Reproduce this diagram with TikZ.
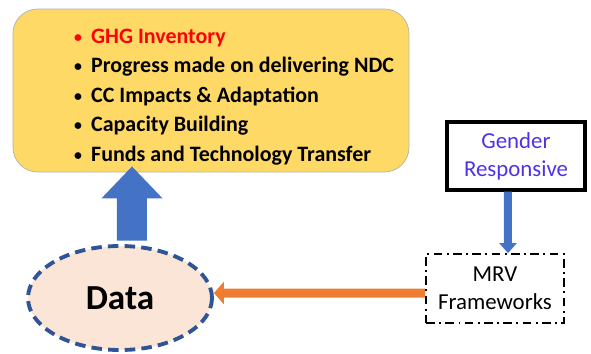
\documentclass[tikz,border=0pt]{standalone}
\usepackage{fontspec}
\setmainfont{Carlito}
\definecolor{ndcyellow}{RGB}{255,217,102}
\definecolor{ndcblue}{RGB}{68,114,196}
\definecolor{ndcnavy}{RGB}{47,85,151}
\definecolor{ndcpeach}{RGB}{251,229,214}
\definecolor{ndcorange}{RGB}{237,125,49}
\definecolor{ndcviolet}{RGB}{80,50,230}
\usetikzlibrary{arrows.meta,positioning,shapes.geometric}
\newcommand{\ndcitem}{\makebox[0.34cm][l]{\raisebox{0.5pt}{\fontsize{9}{9}\selectfont\textbullet}}}

\begin{document}
\begin{tikzpicture}[
  reportbox/.style={draw=gray!60,rounded corners=14pt,fill=ndcyellow,
                    minimum width=7.92cm,minimum height=3.26cm},
  datanode/.style={ellipse,draw=ndcnavy,fill=ndcpeach,line width=2.2pt,
                   dash pattern=on 6pt off 3.5pt,minimum width=3.68cm,minimum height=2.08cm,
                   font=\fontsize{20}{24}\selectfont\bfseries},
  genderbox/.style={draw,line width=1.8pt,minimum width=2.76cm,minimum height=1.36cm,
                    align=center,text=ndcviolet,font=\fontsize{13}{16}\selectfont},
  mrvbox/.style={draw,line width=1pt,dash pattern=on 5pt off 2.5pt on 1pt off 2.5pt,
                 minimum width=2.76cm,minimum height=1.38cm,align=center,
                 font=\fontsize{13}{16}\selectfont},
  bigarr/.style={-{Triangle[width=1.18cm,length=0.64cm]},line width=0.6cm,ndcblue},
  thinarr/.style={-{Triangle[width=0.34cm,length=0.2cm]},line width=0.16cm,ndcblue},
  orarr/.style={-{Triangle[width=0.44cm,length=0.2cm]},line width=0.18cm,ndcorange},
]
  \useasboundingbox (0,0) rectangle (11.82,7.06);

  % Reporting box with list
  \node[reportbox] (report) at (4.22,5.25) {};
  \node[anchor=west,align=left,font=\fontsize{12.5}{16.8}\selectfont\bfseries] (items) at (1.36,5.12)
    {\textcolor{red}{\ndcitem GHG Inventory}\\
     \ndcitem Progress made on delivering NDC\\
     \ndcitem CC Impacts \& Adaptation\\
     \ndcitem Capacity Building\\
     \ndcitem Funds and Technology Transfer};

  % Data
  \node[datanode] (data) at (2.4,1.1) {Data};

  % Gender and MRV
  \node[genderbox] (gender) at (10.32,3.94) {Gender\\Responsive};
  \node[mrvbox] (mrv) at (9.9,1.29) {MRV\\Frameworks};

  % Arrows
  \draw[bigarr,shorten <=2pt] ([xshift=0.24cm]data.north) -- ([xshift=-1.58cm,yshift=0.12cm]report.south);
  \draw[thinarr] ([xshift=-0.16cm]gender.south) -- ([xshift=0.26cm]mrv.north);
  \draw[orarr] ([yshift=-0.09cm]mrv.west) -- ([yshift=0.1cm]data.east);
\end{tikzpicture}
\end{document}
